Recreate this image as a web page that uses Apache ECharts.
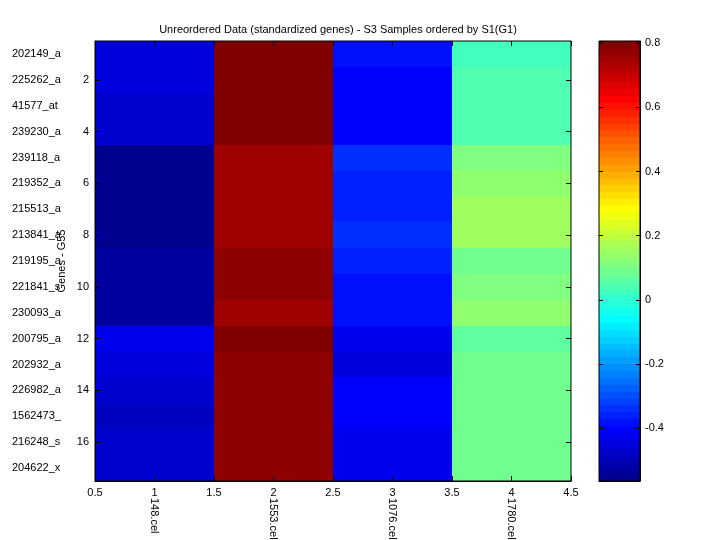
<!DOCTYPE html>
<html>
<head>
<meta charset="utf-8">
<script src="https://cdn.jsdelivr.net/npm/echarts@6/dist/echarts.min.js"></script>
<style>
  html, body { margin: 0; padding: 0; background: #fff; }
  #chart { width: 720px; height: 540px; }
</style>
</head>
<body>
<div id="chart"></div>
<script>
// genes (rows, top to bottom) and samples (columns)
var genes = ['202149_a', '225262_a', '41577_at', '239230_a', '239118_a', '219352_a',
  '215513_a', '213841_a', '219195_a', '221841_s', '230093_a', '200795_a', '202932_a',
  '226982_a', '1562473_', '216248_s', '204622_x'];
var samples = ['148.cel', '1553.cel', '1076.cel', '1780.cel'];

// standardized values, one array per sample column
var col148 = [-0.446, -0.450, -0.465, -0.470, -0.548, -0.552, -0.565, -0.558, -0.530,
  -0.527, -0.535, -0.420, -0.445, -0.466, -0.488, -0.472, -0.468];
var col1553 = [0.807, 0.799, 0.795, 0.801, 0.752, 0.756, 0.750, 0.748, 0.772,
  0.776, 0.758, 0.803, 0.770, 0.774, 0.778, 0.771, 0.769];
var col1076 = [-0.384, -0.405, -0.402, -0.408, -0.338, -0.362, -0.358, -0.342, -0.357,
  -0.380, -0.386, -0.425, -0.441, -0.400, -0.398, -0.428, -0.422];
var col1780 = [0.025, 0.047, 0.044, 0.049, 0.108, 0.131, 0.152, 0.155, 0.088,
  0.112, 0.134, 0.068, 0.090, 0.087, 0.091, 0.085, 0.089];
var columns = [col148, col1553, col1076, col1780];

var FONT = 'Liberation Sans, Arial, Helvetica, sans-serif';

// matlab jet(64)
function jetMap(n) {
  var m = Math.ceil(n / 4);
  var u = [];
  for (var i = 1; i <= m; i++) u.push(i / m);
  for (i = 1; i < m; i++) u.push(1);
  for (i = m; i >= 1; i--) u.push(i / m);
  var off = Math.ceil(m / 2) - (n % 4 === 1 ? 1 : 0);
  var rgb = [];
  for (i = 0; i < n; i++) rgb.push([0, 0, 0]);
  var gIdx = [], rIdx = [], bIdx = [];
  for (i = 1; i <= u.length; i++) {
    var g = off + i;
    if (g <= n) gIdx.push(g);
    if (g + m <= n) rIdx.push(g + m);
    if (g - m >= 1) bIdx.push(g - m);
  }
  rIdx.forEach(function (r, k) { rgb[r - 1][0] = u[k]; });
  gIdx.forEach(function (g, k) { rgb[g - 1][1] = u[k]; });
  bIdx.forEach(function (b, k) { rgb[b - 1][2] = u[u.length - bIdx.length + k]; });
  return rgb.map(function (c) {
    return 'rgb(' + c.map(function (v) { return Math.round(v * 255); }).join(',') + ')';
  });
}
var jet = jetMap(64);

var cmin = Infinity, cmax = -Infinity;
columns.forEach(function (c) {
  c.forEach(function (v) { cmin = Math.min(cmin, v); cmax = Math.max(cmax, v); });
});
var step = (cmax - cmin) / 64;

var heatData = [];
columns.forEach(function (c, x) {
  c.forEach(function (v, y) { heatData.push([x, y, v]); });
});

var pieces = jet.map(function (color, i) {
  var p = { gte: cmin + i * step, lt: cmin + (i + 1) * step, color: color };
  if (i === 63) { delete p.lt; p.lte = cmax + 1e-9; }
  return p;
});

var barData = jet.map(function (color, i) {
  return ['bar', cmin + i * step, cmin + (i + 1) * step, i];
});

var rowNums = genes.map(function (g, i) { return String(i + 1); });
var evenRow = function (i) { return (i + 1) % 2 === 0; };

function labelStyle(extra) {
  return Object.assign({ show: true, color: '#000', fontFamily: FONT, fontSize: 11 }, extra || {});
}
function blackLine(show) {
  return { show: show, onZero: false, lineStyle: { color: '#000', width: 1 } };
}
function tickOut(len, extra) {
  return Object.assign({ show: true, inside: false, length: len,
    lineStyle: { color: '#000', width: 1 } }, extra || {});
}
// matlab ticks point into the box: an axis pulled in by `len` with outward ticks
function tickAxis(base, len, tickExtra) {
  return Object.assign({
    offset: -len, z: 10, zlevel: 1,
    splitLine: { show: false }, axisLine: blackLine(false),
    axisTick: tickOut(len, tickExtra), axisLabel: { show: false }
  }, base);
}

// snapped rect so neighbouring cells don't leave seams
function snapRect(x0, y0, x1, y1) {
  var l = Math.round(Math.min(x0, x1)), r = Math.round(Math.max(x0, x1));
  var t = Math.round(Math.min(y0, y1)), b = Math.round(Math.max(y0, y1));
  return { x: l, y: t, width: r - l, height: b - t };
}

var chart = echarts.init(document.getElementById('chart'));
chart.setOption({
  animation: false,
  backgroundColor: '#fff',
  title: {
    text: 'Unreordered Data (standardized genes) - S3 Samples ordered by S1(G1)',
    left: 333,
    textAlign: 'center',
    top: 19,
    textStyle: { fontFamily: FONT, fontSize: 11, fontWeight: 'normal', color: '#000' }
  },
  grid: [
    { left: 95, top: 41, width: 476, height: 440, show: true, z: 10, outerBoundsMode: 'none',
      containLabel: false, borderColor: '#000', borderWidth: 1, backgroundColor: 'transparent' },
    { left: 599, top: 41, width: 41, height: 440, show: true, z: 10, outerBoundsMode: 'none',
      containLabel: false, borderColor: '#000', borderWidth: 1, backgroundColor: 'transparent' }
  ],
  xAxis: [
    { type: 'category', gridIndex: 0, position: 'bottom', data: samples, z: 10,
      axisLine: blackLine(false), axisTick: { show: false },
      axisLabel: labelStyle({ rotate: -90, margin: 17 }) },
    { type: 'value', gridIndex: 0, position: 'bottom', min: 0.5, max: 4.5, interval: 0.5, z: 10,
      splitLine: { show: false }, axisLine: blackLine(true), axisTick: { show: false },
      axisLabel: labelStyle({ margin: 6 }) },
    tickAxis({ type: 'value', gridIndex: 0, position: 'bottom', min: 0.5, max: 4.5, interval: 0.5 }, 5),
    tickAxis({ type: 'value', gridIndex: 0, position: 'top', min: 0.5, max: 4.5, interval: 0.5 }, 5),
    { type: 'category', gridIndex: 1, position: 'bottom', data: ['bar'], z: 10,
      axisLine: blackLine(true), axisTick: { show: false }, axisLabel: { show: false } }
  ],
  yAxis: [
    { type: 'category', gridIndex: 0, position: 'left', inverse: true, data: genes, z: 10,
      axisLine: blackLine(false), axisTick: { show: false },
      axisLabel: labelStyle({ align: 'left', margin: 83, interval: 0 }),
      name: 'Genes - G55', nameLocation: 'middle', nameGap: 28, nameRotate: 90,
      nameMoveOverlap: false,
      nameTextStyle: { fontFamily: FONT, fontSize: 11, color: '#000' } },
    { type: 'category', gridIndex: 0, position: 'left', inverse: true, z: 10, data: rowNums,
      axisLine: blackLine(true), axisTick: { show: false },
      axisLabel: labelStyle({ interval: evenRow, margin: 6 }) },
    tickAxis({ type: 'category', gridIndex: 0, position: 'left', inverse: true, data: rowNums }, 5,
      { alignWithLabel: true, interval: evenRow }),
    tickAxis({ type: 'category', gridIndex: 0, position: 'right', inverse: true, data: rowNums }, 5,
      { alignWithLabel: true, interval: evenRow }),
    { type: 'value', gridIndex: 1, position: 'right', min: cmin, max: cmax, splitNumber: 7, z: 10,
      splitLine: { show: false }, axisLine: blackLine(true), axisTick: { show: false },
      axisLabel: labelStyle({ margin: 5, showMinLabel: false, showMaxLabel: false }) },
    tickAxis({ type: 'value', gridIndex: 1, position: 'right', min: cmin, max: cmax, splitNumber: 7 }, 4),
    tickAxis({ type: 'value', gridIndex: 1, position: 'left', min: cmin, max: cmax, splitNumber: 7 }, 4)
  ],
  visualMap: {
    type: 'piecewise',
    show: false,
    seriesIndex: 0,
    dimension: 2,
    pieces: pieces
  },
  series: [
    {
      type: 'custom',
      xAxisIndex: 0,
      yAxisIndex: 0,
      z: 0,
      data: heatData,
      encode: { x: 0, y: 1 },
      renderItem: function (params, api) {
        var c = api.coord([api.value(0), api.value(1)]);
        var s = api.size([1, 1]);
        return {
          type: 'rect',
          shape: snapRect(c[0] - s[0] / 2, c[1] - s[1] / 2, c[0] + s[0] / 2, c[1] + s[1] / 2),
          style: { fill: api.visual('color') }
        };
      }
    },
    {
      type: 'custom',
      xAxisIndex: 4,
      yAxisIndex: 4,
      z: 0,
      data: barData,
      encode: { x: 0, y: [1, 2] },
      renderItem: function (params, api) {
        var lo = api.coord([api.value(0), api.value(1)]);
        var hi = api.coord([api.value(0), api.value(2)]);
        var w = api.size([1, 0])[0];
        return {
          type: 'rect',
          shape: snapRect(lo[0] - w / 2, lo[1], hi[0] + w / 2, hi[1]),
          style: { fill: jet[api.value(3)] }
        };
      }
    }
  ]
});
</script>
</body>
</html>
